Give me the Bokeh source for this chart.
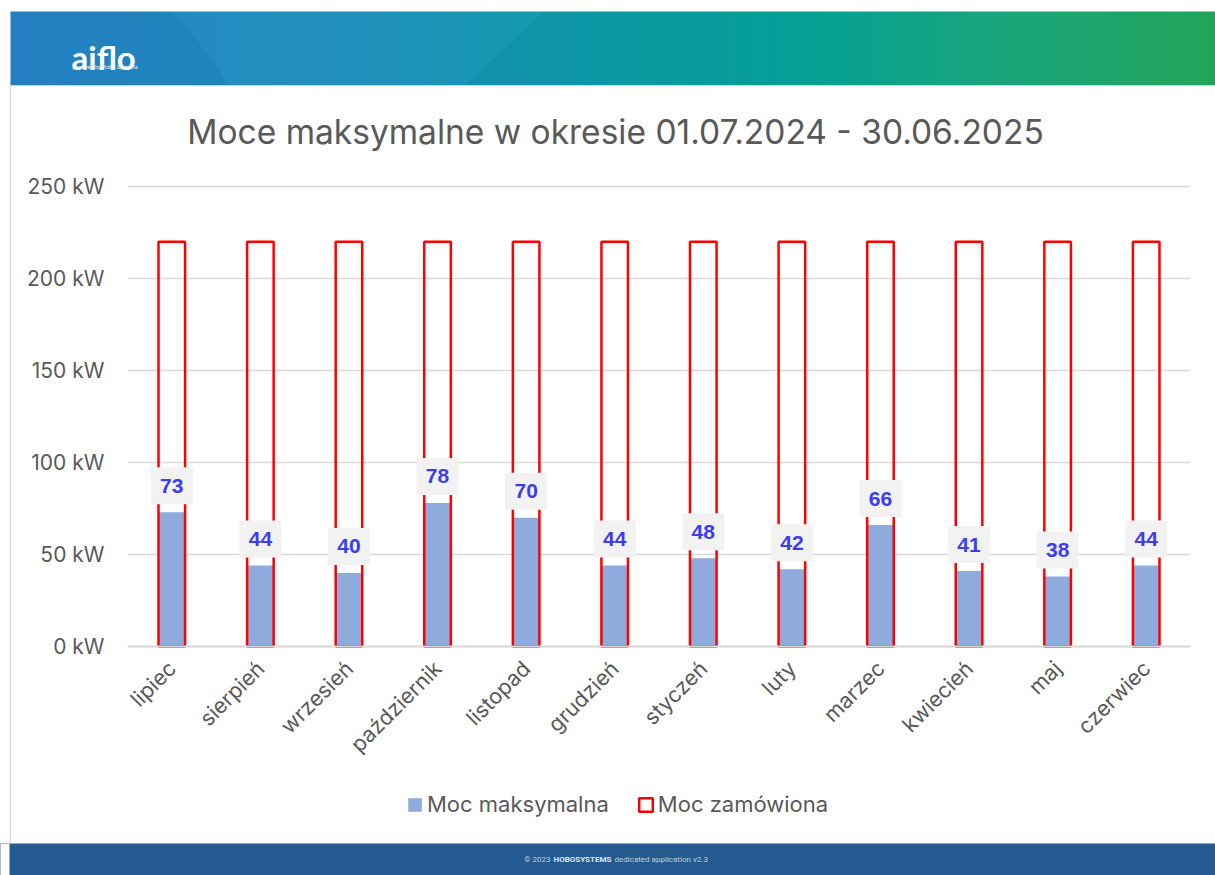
import math
import numpy as np
from bokeh.plotting import figure
from bokeh.models import FactorRange, Range1d, FixedTicker, Label, Legend, LegendItem
from bokeh.layouts import column, row
from bokeh.core.properties import value
from bokeh.embed import file_html
from bokeh.resources import INLINE

# ---------------- data ----------------
months = ["lipiec", "sierpień", "wrzesień", "październik", "listopad", "grudzień",
          "styczeń", "luty", "marzec", "kwiecień", "maj", "czerwiec"]
moc_maksymalna = [73, 44, 40, 78, 70, 44, 48, 42, 66, 41, 38, 44]
moc_zamowiona = [220, 220, 220, 220, 220, 220, 220, 220, 220, 220, 220, 220]
y_ticks = [0, 50, 100, 150, 200, 250]
y_tick_labels = ["0 kW", "50 kW", "100 kW", "150 kW", "200 kW", "250 kW"]
series_names = ["Moc maksymalna", "Moc zamówiona"]
title_text = "Moce maksymalne w okresie 01.07.2024 - 30.06.2025"
logo_text = "aiflo"
logo_sub = "powered by Hobo Systems"
footer_parts = ["© 2023", "HOBOSYSTEMS", "dedicated application v2.3"]

FONT = "Inter"
GRAY_TXT = "#595959"
W = 1215

# ---------------- header ----------------
HDR_H = 86
hdr = figure(width=W, height=HDR_H, x_range=Range1d(0, W), y_range=Range1d(0, HDR_H),
             toolbar_location=None, output_backend="svg", min_border=0,
             x_axis_location=None, y_axis_location=None)
hdr.grid.visible = False
hdr.outline_line_color = None
hdr.background_fill_color = "white"
hdr.border_fill_color = "white"

IW, IH = W - 10, 75
xs = np.arange(IW) + 10.0
stops_x = [10, 400, 600, 800, 1000, 1215]
stops_c = np.array([[37, 127, 195], [24, 140, 180], [12, 152, 164],
                    [4, 160, 150], [26, 166, 124], [34, 164, 90]], dtype=float)
img = np.zeros((IH, IW, 4), dtype=np.uint8)
for i in range(IH):
    page_y = 86 - i - 0.5
    t = (page_y - 11) / 75.0
    lx = 168 + 60 * t ** 0.8
    rx = 543 - 80 * t
    band = ((xs > lx) & (xs < rx)).astype(float) * 6
    for c in range(3):
        img[i, :, c] = np.clip(np.interp(xs, stops_x, stops_c[:, c]) + band, 0, 255)
    img[i, :, 3] = 255
img32 = img.view(dtype=np.uint32).reshape((IH, IW))
hdr.image_rgba(image=[img32], x=10, y=0, dw=IW, dh=IH)
hdr.quad(left=10, right=W, bottom=0, top=1.5, fill_color="#CBD8DB", line_color=None)
hdr.text(x=[71], y=[30], text=[logo_text], text_font=value("Lato"), text_font_style="bold",
         text_font_size="33px", text_color="white", text_baseline="alphabetic")
hdr.text(x=[72], y=[20], text=[logo_sub], text_font=value("Roboto"),
         text_font_size="5.5px", text_color="#E6F0F8", text_baseline="middle")

# ---------------- left card edge ----------------
MAIN_H = 757
edge = figure(width=11, height=MAIN_H, toolbar_location=None, output_backend="svg",
              min_border_left=9, min_border_right=0, min_border_top=0, min_border_bottom=0,
              x_axis_location=None, y_axis_location=None,
              x_range=Range1d(0, 1), y_range=Range1d(0, 1))
edge.grid.visible = False
edge.outline_line_color = None
edge.background_fill_color = "#D9D9D9"
edge.border_fill_color = "white"

# ---------------- main chart ----------------
# frame spans the whole card height; 0 kW sits 197 px above the card bottom,
# 250 kW sits 100 px below the card top (460 px for 250 kW)
px_per_kw = 460.0 / 250.0
y_lo = -197 / px_per_kw
y_hi = 250 + 100 / px_per_kw

p = figure(width=W - 11, height=MAIN_H,
           x_range=FactorRange(factors=months, range_padding=0),
           y_range=Range1d(y_lo, y_hi),
           toolbar_location=None, output_backend="svg",
           min_border_left=116, min_border_right=25, min_border_top=0, min_border_bottom=0)
p.outline_line_color = None
p.background_fill_color = "white"
p.border_fill_color = "white"

r_blue = p.vbar(x=months, top=moc_maksymalna, width=0.30, fill_color="#8FAADC", line_color=None)
r_red = p.vbar(x=months, top=moc_zamowiona, width=0.30, fill_color=None,
               line_color="#FF0000", line_width=2.5)

label_offset_kw = 26.5 / px_per_kw
label_y = [v + label_offset_kw for v in moc_maksymalna]
p.rect(x=months, y=label_y, width=42, height=37, width_units="screen", height_units="screen",
       fill_color="#F2F2F2", line_color=None)
p.text(x=months, y=label_y, text=[str(v) for v in moc_maksymalna], text_align="center",
       text_baseline="middle", text_font=value("Liberation Sans"), text_font_style="bold",
       text_font_size="21px", text_color="#3C3CF0")

p.yaxis.ticker = FixedTicker(ticks=y_ticks)
p.yaxis.major_label_overrides = dict(zip(y_ticks, y_tick_labels))
p.yaxis.axis_line_color = None
p.yaxis.major_tick_line_color = None
p.yaxis.minor_tick_line_color = None
p.yaxis.major_tick_out = 0
p.yaxis.major_tick_in = 0
p.yaxis.major_label_standoff = 23
p.yaxis.major_label_text_font = FONT
p.yaxis.major_label_text_font_size = "21px"
p.yaxis.major_label_text_color = GRAY_TXT

p.xaxis.fixed_location = 0
p.xaxis.axis_line_color = "#D9D9D9"
p.xaxis.axis_line_width = 2
p.xaxis.major_tick_line_color = None
p.xaxis.major_tick_out = 0
p.xaxis.major_tick_in = 0
p.xaxis.major_label_orientation = math.pi / 4
p.xaxis.major_label_standoff = 18
p.xaxis.major_label_text_font = FONT
p.xaxis.major_label_text_font_size = "21.5px"
p.xaxis.major_label_text_color = GRAY_TXT

p.xgrid.grid_line_color = None
p.ygrid.grid_line_color = "#D9D9D9"
p.ygrid.grid_line_width = 1.5

# title: centre at page x 615, y 131 -> relative to frame bottom-left (127, 843)
p.add_layout(Label(x=488, y=712, x_units="screen", y_units="screen", text=title_text,
                   text_align="center", text_baseline="middle", text_font=FONT,
                   text_font_size="33.5px", text_color=GRAY_TXT))

legend = Legend(items=[LegendItem(label=series_names[0], renderers=[r_blue]),
                       LegendItem(label=series_names[1], renderers=[r_red])],
                orientation="horizontal", location=(279, 26), padding=0, margin=0,
                glyph_width=17, glyph_height=17, label_standoff=4, spacing=28,
                label_text_font=FONT, label_text_font_size="22px",
                label_text_color=GRAY_TXT, border_line_color=None,
                background_fill_alpha=0)
p.add_layout(legend)

# ---------------- footer ----------------
FT_H = 32
ftr = figure(width=W, height=FT_H, x_range=Range1d(0, W), y_range=Range1d(0, FT_H),
             toolbar_location=None, output_backend="svg", min_border=0,
             x_axis_location=None, y_axis_location=None)
ftr.grid.visible = False
ftr.outline_line_color = None
ftr.background_fill_color = "#235B91"
ftr.border_fill_color = "#235B91"
ftr.quad(left=0, right=9, bottom=0, top=FT_H, fill_color="white", line_color=None)
ftr.text(x=[550], y=[16], text=[footer_parts[0]], text_align="right", text_baseline="middle",
         text_font=value("Roboto"), text_font_size="8px", text_color="#C3CEDC")
ftr.text(x=[553], y=[16], text=[footer_parts[1]], text_align="left", text_baseline="middle",
         text_font=value("Roboto"), text_font_style="bold", text_font_size="8px", text_color="#E0E6EE")
ftr.text(x=[614], y=[16], text=[footer_parts[2]], text_align="left", text_baseline="middle",
         text_font=value("Roboto"), text_font_size="8px", text_color="#C3CEDC")

layout = column(hdr, row(edge, p), ftr)
open("out.html", "w").write(file_html(layout, INLINE))
